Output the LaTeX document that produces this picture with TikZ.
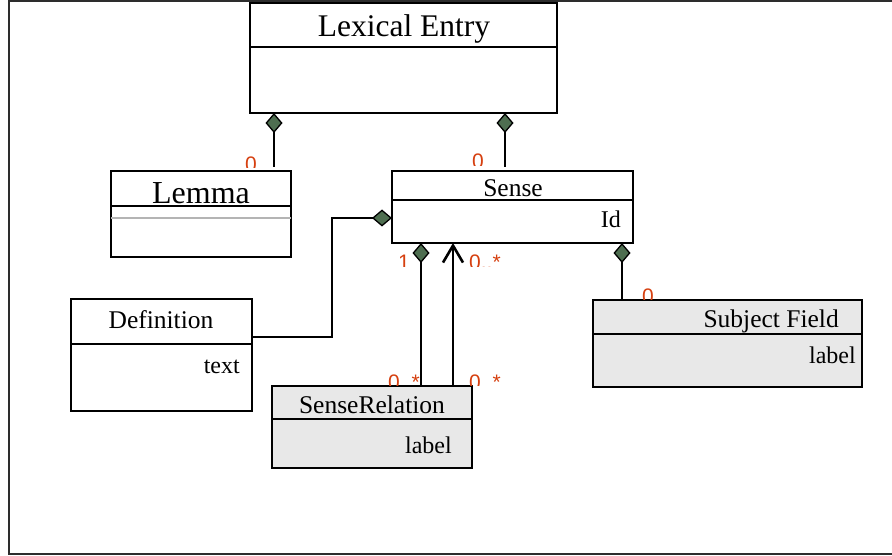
\documentclass[tikz,border=0pt]{standalone}
\usepackage{fontspec}
\setmainfont{Liberation Serif}
\newfontfamily\multfont{Liberation Sans}
\usetikzlibrary{arrows.meta,calc}
\definecolor{compgreen}{RGB}{78,110,80}
\definecolor{multred}{RGB}{214,64,16}
\definecolor{classgray}{RGB}{232,232,232}
\definecolor{framegray}{RGB}{45,45,45}
\definecolor{rulegray}{RGB}{180,180,180}

% multiplicity label, cut off along a horizontal line
\newcommand{\cutmult}[5]{%
  \begin{scope}
    \clip (#2-3,#3-25) rectangle (#2+45,#4);
    \node[mult] (#1) at (#2,#3) {#5};
  \end{scope}}

\begin{document}
\begin{tikzpicture}[x=1pt,y=-1pt,
  classbox/.style={draw=black,line width=2pt,fill=white,rectangle,
    inner sep=0pt,outer sep=0pt,anchor=north west},
  shaded/.style={fill=classgray},
  divider/.style={line width=2pt},
  title/.style={font=\fontsize{25.5}{25.5}\selectfont,anchor=base,inner sep=0pt},
  bigtitle/.style={font=\fontsize{31.5}{31.5}\selectfont,anchor=base,inner sep=0pt},
  attr/.style={font=\fontsize{24}{24}\selectfont,anchor=base east,inner sep=0pt},
  link/.style={line width=2.2pt},
  comp/.style={link,arrows={Diamond[length=20pt,width=17pt,line width=1.3pt,fill=compgreen]-}},
  nav/.style={line width=2.6pt,arrows={-Straight Barb[length=17pt,width=20pt]}},
  mult/.style={font=\multfont\fontsize{21}{21}\selectfont,text=multred,
    anchor=base west,inner sep=0pt},
]
\clip (0,0) rectangle (892,556);
\fill[white] (0,0) rectangle (892,556);

% outer frame
\draw[framegray,line width=2pt] (9,1) rectangle (910,554);

% classes
\node[classbox,minimum width=307pt,minimum height=110pt] (le) at (250,3) {};
\draw[divider] ($(le.north west)+(0,44)$) -- ($(le.north east)+(0,44)$);
\node[bigtitle] (letitle) at (404,37) {Lexical Entry};

\node[classbox,minimum width=180pt,minimum height=86pt] (lemma) at (111,171) {};
\draw[rulegray,divider] ($(lemma.north west)+(0,47)$) -- ($(lemma.north east)+(0,47)$);
\draw[divider] ($(lemma.north west)+(0,35)$) -- ($(lemma.north east)+(0,35)$);
\node[bigtitle,font=\fontsize{32}{32}\selectfont] (lemmatitle) at (201,204) {Lemma};

\node[classbox,minimum width=241pt,minimum height=72pt] (sense) at (392,171) {};
\draw[divider] ($(sense.north west)+(0,29)$) -- ($(sense.north east)+(0,29)$);
\node[title] (sensetitle) at (513,197) {Sense};
\node[attr] (senseid) at (621,228) {Id};

\node[classbox,minimum width=181pt,minimum height=112pt] (def) at (71,299) {};
\draw[divider] ($(def.north west)+(0,45)$) -- ($(def.north east)+(0,45)$);
\node[title] (deftitle) at (161,328) {Definition};
\node[attr] (deftext) at (240,373) {text};

\node[classbox,shaded,minimum width=200pt,minimum height=82pt] (srel) at (272,386) {};
\draw[divider] ($(srel.north west)+(0,33)$) -- ($(srel.north east)+(0,33)$);
\node[title] (sreltitle) at (372,413) {SenseRelation};
\node[attr] (srellabel) at (452,453) {label};

\node[classbox,shaded,minimum width=269pt,minimum height=87pt] (sfield) at (593,300) {};
\draw[divider] ($(sfield.north west)+(0,34)$) -- ($(sfield.north east)+(0,34)$);
\node[title,anchor=base east] (sfieldtitle) at (839,327) {Subject Field};
\node[attr] (sfieldlabel) at (856,363) {label};

% connectors
\coordinate (leA) at ($(le.south west)+(24,0)$);
\coordinate (leB) at ($(le.south west)+(255,0)$);
\coordinate (senseL) at ($(sense.north west)+(0,47)$);
\coordinate (defR) at ($(def.north east)+(0,38)$);
\coordinate (senseA) at ($(sense.south west)+(29,0)$);
\coordinate (srelB) at ($(srel.north west)+(181,0)$);
\coordinate (senseC) at ($(sense.south west)+(230,0)$);

\draw[comp,shorten >=4pt] (leA) -- (leA |- lemma.north);
\draw[comp,shorten >=4pt] (leB) -- (leB |- sense.north);
\draw[comp] (senseL) -- ++(-60,0) |- (defR);
\draw[comp] (senseA) -- (senseA |- srel.north);
\draw[nav] (srelB) -- (srelB |- sense.south);
\draw[comp] (senseC) -- (senseC |- sfield.north);

% multiplicities
\cutmult{m1}{245}{172}{168}{0}
\cutmult{m2}{472}{169}{166}{0}
\cutmult{m3}{398}{270}{267}{1}
\cutmult{m4}{469}{270}{267}{0..*}
\cutmult{m5}{388}{389}{385}{0..*}
\cutmult{m6}{469}{389}{385}{0..*}
\cutmult{m7}{642}{304}{299}{0}
\end{tikzpicture}
\end{document}
